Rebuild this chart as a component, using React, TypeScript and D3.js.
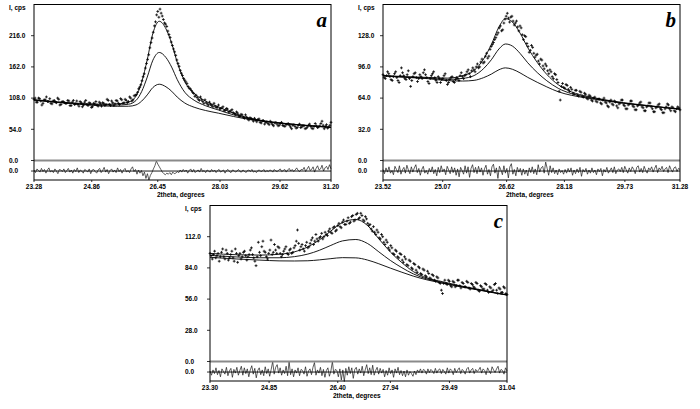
import React from 'react';
import * as d3 from 'd3';

// ---------- Panel a ----------
const aRange = [23.28, 31.2];
const aTicksX = ['23.28', '24.86', '26.45', '28.03', '29.62', '31.20'];
// where the reference prints each tick label along the 2theta axis
const aTicksAt = [23.28, 24.82, 26.58, 28.24, 29.84, 31.2];
const aTicksY = [0, 54, 108, 162, 216];
const aYMax = 270;
const aObs = [
  106, 108, 101, 101, 108, 107, 103, 96, 99, 105, 105, 110, 102, 102, 107, 99, 98, 103, 104, 101,
  100, 108, 106, 96, 97, 102, 102, 100, 99, 99, 104, 103, 95, 95, 101, 104, 97, 98, 103, 97,
  94, 102, 100, 93, 96, 101, 104, 97, 95, 100, 99, 92, 93, 99, 98, 102, 96, 94, 101, 99,
  94, 100, 99, 95, 97, 106, 104, 97, 95, 103, 100, 95, 98, 104, 103, 99, 97, 107, 105, 99,
  100, 106, 104, 100, 102, 110, 108, 103, 105, 112, 113, 114, 118, 124, 127, 131, 138, 145, 150, 160,
  168, 175, 183, 195, 204, 212, 222, 233, 240, 252, 258, 248, 262, 255, 250, 244, 238, 236, 232, 224,
  218, 213, 205, 199, 193, 188, 182, 174, 168, 163, 156, 151, 147, 142, 139, 136, 133, 128, 125, 124,
  121, 118, 116, 111, 113, 109, 106, 104, 110, 105, 102, 99, 105, 100, 98, 96, 101, 97, 95, 93,
  99, 94, 92, 92, 96, 89, 90, 91, 93, 86, 87, 90, 89, 84, 85, 86, 88, 83, 81, 80,
  84, 82, 78, 76, 80, 79, 75, 73, 79, 75, 72, 70, 74, 73, 71, 68, 73, 70, 67, 71,
  72, 66, 65, 69, 69, 63, 66, 67, 64, 62, 68, 65, 62, 60, 65, 66, 63, 60, 61, 64,
  66, 61, 60, 59, 62, 63, 64, 61, 58, 55, 61, 62, 59, 56, 57, 61, 63, 57, 58, 60,
  60, 55, 56, 58, 61, 63, 59, 56, 55, 59, 64, 60, 57, 58, 60, 64, 68, 61, 55, 59,
  62, 56, 58, 61, 66,
];
const aRes = [
  2, -3, 4, 1, -2, 5, -1, 3, -4, 2, 6, -2, 1, -3, 4, 0, -5, 3, 2, -1,
  4, -3, 1, 5, -2, 2, -4, 3, -1, 6, -3, 2, 0, -4, 3, 1, -2, 4, -5, 2,
  3, -1, -4, 2, 5, -3, 1, 7, -2, 3, -5, 1, 4, -2, 2, -3, 6, -1, 3, -4,
  2, 5, -2, 1, -3, 4, 8, -1, 3, -6, 2, -4, 1, -9, -2, -14, -5, -17, -8, -3,
  4, 10, 19, 13, 8, 3, -2, -5, -7, -4, -6, -3, -7, -2, -5, -4, -1, -3, 2, -2,
  3, -1, 2, -4, 1, 4, -2, 3, -3, 0, 2, -2, 5, -1, 1, -3, 2, 0, -2, 3,
  -1, 2, -3, 1, 3, -2, 0, 2, -4, 1, 3, -1, -3, 2, 1, -2, 0, 3, -1, -2,
  2, 0, -3, 1, 2, -1, 3, -2, 0, -3, 1, 2, -1, 0, 3, -2, 1, -1, 2, 1,
  -2, 3, 0, -1, 2, 4, -1, 1, 3, -2, 2, 5, 0, 3, -1, 2, 6, 1, -1, 3,
  2, 7, -1, 4, 9, 1, 3, 8, -2, 5, 10, 2, 4, 11, 0, 6, 9, 3, 12, 4,
];
const aFitX = [23.28, 23.9, 24.5, 25.1, 25.5, 25.8, 26.0, 26.15, 26.3, 26.45, 26.62, 26.8, 26.95, 27.1, 27.3, 27.55, 27.85, 28.2, 28.6, 29.1, 29.7, 30.4, 31.2];
const aFitLow = [104.4, 100.4, 97.2, 94.6, 93.8, 93.9, 96.2, 102.7, 113.6, 126.3, 132, 127.5, 119.9, 109.7, 99.5, 92.2, 86.6, 81.9, 76.2, 70.3, 65.4, 61.2, 57.1];
const aFitMid = [104.8, 101.0, 98.0, 96.0, 96.0, 97.4, 103.9, 119.2, 144.4, 173.6, 187, 178.1, 161.7, 140, 118.2, 104.3, 94.9, 87.4, 79, 71.3, 65.8, 61.4, 57.3];
const aFitTop = [105.2, 101.5, 98.8, 97.3, 98.1, 100.9, 111.4, 135.4, 174.7, 220.1, 241, 227.8, 202.8, 169.7, 136.5, 116.2, 103, 92.8, 81.7, 72.3, 66.2, 61.6, 57.5];

// ---------- Panel b ----------
const bRange = [23.52, 31.28];
const bTicksX = ['23.52', '25.07', '26.62', '28.18', '29.73', '31.28'];
const bTicksAt = [23.52, 25.08, 26.75, 28.26, 29.84, 31.28];
const bTicksY = [0, 32, 64, 96, 128];
const bYMax = 160;
const bObs = [
  88, 85, 84, 87, 91, 89, 86, 83, 82, 86, 89, 91, 85, 82, 80, 87, 95, 90, 87, 84,
  83, 88, 92, 84, 76, 82, 86, 89, 90, 85, 81, 84, 88, 86, 84, 90, 93, 88, 85, 81,
  79, 84, 87, 89, 91, 85, 82, 80, 86, 84, 80, 83, 84, 87, 89, 82, 78, 80, 83, 85,
  86, 81, 80, 83, 85, 84, 82, 87, 90, 86, 84, 87, 88, 91, 93, 89, 86, 92, 95, 93,
  91, 96, 99, 95, 96, 101, 104, 100, 101, 107, 110, 105, 107, 114, 117, 119, 121, 124, 126, 129,
  131, 136, 138, 133, 134, 141, 145, 148, 151, 146, 142, 147, 148, 143, 139, 141, 143, 137, 133, 138,
  136, 129, 124, 128, 127, 120, 117, 111, 113, 118, 116, 110, 106, 108, 109, 102, 99, 104, 103, 97,
  94, 99, 97, 92, 89, 93, 91, 86, 84, 89, 88, 83, 80, 71, 62, 76, 79, 75, 74, 78,
  77, 73, 71, 75, 73, 69, 68, 72, 72, 67, 66, 71, 70, 66, 65, 69, 68, 64, 63, 67,
  66, 62, 61, 64, 65, 61, 60, 63, 63, 59, 58, 62, 64, 60, 59, 56, 55, 60, 62, 58,
  57, 61, 60, 56, 54, 58, 59, 62, 62, 57, 56, 53, 53, 57, 58, 61, 61, 56, 55, 52,
  52, 56, 57, 59, 60, 55, 54, 51, 51, 55, 56, 59, 59, 55, 53, 50, 50, 54, 55, 57,
  58, 53, 52, 49, 49, 53, 55, 58, 57, 53, 51, 55, 54, 51, 50, 53, 55, 54, 52,
];
const bRes = [
  3, -5, 6, -2, 8, -4, 1, -7, 9, 3, -3, 10, -6, 2, 7, -4, 11, 2, -5, 8,
  -2, 6, 12, -3, 5, -8, 3, 9, -4, 1, -6, 5, -2, 8, -5, 3, -9, 7, -3, 10,
  -1, 4, -7, 9, 2, -5, 8, -3, 6, -8, 4, -11, 7, 1, -6, 10, -4, 8, -12, 5,
  12, -3, 7, -5, 9, -2, 6, -8, 4, 11, -6, 3, -9, 8, 13, -4, 6, -14, 9, 2,
  -7, 10, -4, 5, -13, 8, 14, -6, 3, -9, 7, -2, 5, -8, 4, -6, 2, -9, 6, -3,
  8, -5, 4, -7, 12, -2, 6, 9, -4, 17, 5, -8, 10, -3, 6, -5, 2, -7, 4, -3,
  1, -6, 3, -4, 5, -2, 6, -8, 2, -5, 4, -3, 7, -10, 3, -2, 5, -6, 2, -4,
  6, -3, 2, -7, 4, -1, 5, -9, 3, -2, 7, -4, 1, 6, -3, 8, -5, 2, 4, -1,
  7, -3, 9, 2, -4, 6, -1, 8, 3, -5, 7, 10, -2, 5, -3, 9, 1, -4, 6, 2,
  8, -2, 5, 11, -3, 6, 2, 9, -1, 4, 7, -3, 10, 3, -2, 6, 8, -1, 5, 3,
];
const bFitX = [23.52, 24.1, 24.7, 25.2, 25.6, 25.9, 26.15, 26.35, 26.55, 26.72, 26.9, 27.1, 27.3, 27.55, 27.8, 28.1, 28.45, 28.85, 29.3, 29.8, 30.4, 30.9, 31.28];
const bFitLow = [86.7, 85.3, 83.9, 81.9, 81.5, 82.2, 85, 88.6, 93.1, 95, 93.6, 89.9, 85.3, 80.2, 75.5, 70.5, 66.8, 64.1, 61.4, 58.7, 56.1, 54.1, 52.6];
const bFitMid = [86.9, 85.6, 84.6, 83.2, 84.2, 87.1, 94.3, 103.3, 114.4, 119.5, 117.4, 109.9, 100.3, 90.2, 81.8, 74.0, 68.5, 65.0, 61.9, 59.0, 56.3, 54.2, 52.7];
const bFitTop = [87.2, 86.0, 85.2, 84.5, 87.1, 92.3, 104.2, 118.9, 137, 145.5, 142.1, 130.7, 115.9, 100.6, 88.3, 77.7, 70.3, 65.9, 62.4, 59.3, 56.6, 54.3, 52.8];

// ---------- Panel c ----------
const cRange = [23.3, 31.04];
const cTicksX = ['23.30', '24.85', '26.40', '27.94', '29.49', '31.04'];
const cTicksAt = [23.3, 24.84, 26.63, 28.0, 29.54, 31.04];
const cTicksY = [0, 28, 56, 84, 112];
const cYMax = 140;
const cObs = [
  97, 95, 92, 96, 99, 93, 95, 97, 90, 94, 98, 101, 94, 92, 100, 97, 91, 93, 96, 99,
  93, 90, 101, 97, 89, 95, 97, 92, 94, 98, 99, 95, 91, 94, 96, 100, 102, 96, 93, 90,
  86, 94, 107, 98, 95, 103, 108, 99, 98, 94, 92, 97, 100, 109, 96, 98, 105, 100, 97, 103,
  102, 97, 94, 96, 99, 101, 103, 97, 96, 100, 101, 97, 98, 102, 104, 108, 118, 106, 100, 103,
  105, 101, 99, 104, 107, 102, 103, 106, 109, 111, 105, 108, 114, 110, 108, 111, 112, 115, 110, 112,
  116, 114, 113, 117, 119, 116, 115, 120, 121, 117, 118, 122, 124, 121, 120, 125, 127, 123, 123, 126,
  129, 124, 125, 130, 131, 126, 127, 132, 133, 128, 129, 133, 131, 127, 126, 130, 128, 124, 122, 123,
  119, 117, 121, 116, 114, 118, 116, 111, 110, 114, 112, 107, 105, 109, 107, 102, 100, 104, 102, 97,
  96, 100, 99, 94, 93, 97, 96, 91, 89, 94, 92, 87, 86, 91, 90, 84, 83, 88, 87, 82,
  80, 85, 84, 79, 78, 83, 82, 77, 76, 81, 79, 75, 74, 78, 77, 73, 72, 76, 75, 71,
  70, 64, 61, 70, 73, 70, 69, 73, 72, 68, 67, 72, 71, 67, 68, 73, 73, 68, 66, 71,
  70, 67, 67, 72, 71, 66, 65, 70, 69, 67, 66, 71, 70, 64, 63, 68, 67, 65, 65, 70,
  69, 64, 62, 67, 66, 63, 64, 69, 70, 64, 61, 66, 65, 62, 62, 67, 66, 61, 60,
];
const cRes = [
  2, -6, 4, -3, 8, -5, 3, -9, 6, 1, -4, 9, -7, 2, 7, -10, 5, -2, 9, -6,
  3, 11, -6, 8, -3, 6, -9, 4, 12, -4, 7, -11, 3, 8, -5, 4, -7, 10, -3, 6,
  -8, 5, 20, -4, 9, 14, -2, 8, -6, 4, -3, 11, -7, 20, -5, 6, -9, 4, -2, 8,
  -7, 5, 3, -4, 10, -8, 2, 6, -5, 9, 18, -6, 4, -2, 9, -7, 5, -10, 3, 8,
  -8, 2, 20, -4, 5, 3, -9, 6, -15, 4, -18, 7, -6, 10, -3, 8, -12, 5, 9, -4,
  6, -2, 11, -7, 4, 14, -3, 8, -5, 13, -6, 3, 9, -4, 7, -2, 5, -9, 3, -6,
  8, -3, 4, -10, 6, -2, 9, -5, 3, -7, 2, -9, 4, -6, 1, -3, -8, 2, -5, 4,
  -1, 6, -2, 5, 3, -4, 6, -1, 5, 2, -3, 7, -2, 4, 6, -3, 5, 1, -4, 8,
  -2, 6, 3, -5, 7, -1, 4, 8, -3, 5, 2, -4, 6, 9, -2, 4, 7, -3, 5, 1,
  4, 9, -2, 6, 3, -5, 8, 2, -3, 10, 4, -1, 6, 11, -2, 5, 3, -4, 8, 2,
];
const cFitX = [23.3, 24.0, 24.6, 25.1, 25.5, 25.85, 26.15, 26.45, 26.75, 27.1, 27.4, 27.7, 28.0, 28.3, 28.6, 28.95, 29.35, 29.8, 30.3, 30.7, 31.04];
const cFitLow = [93.5, 92.0, 91.0, 90.3, 90.2, 90.4, 91.2, 92.3, 93.2, 93, 91.1, 87.7, 83.8, 80.1, 76.6, 73.3, 70.4, 67.2, 64.1, 61.6, 59.6];
const cFitMid = [95.2, 93.8, 93.1, 93.1, 94.1, 96.4, 99.8, 104.2, 108.2, 109.5, 106, 98.4, 90.7, 84.2, 78.6, 74.1, 71, 67.6, 64.4, 61.8, 59.7];
const cFitTop = [97.0, 95.8, 95.5, 96.2, 98.4, 102.9, 109.1, 117.1, 124.6, 127.5, 122.2, 110.1, 98.3, 88.7, 80.7, 75, 71.7, 68.1, 64.7, 61.9, 59.8];

const SANS = "'Liberation Sans', Arial, Helvetica, sans-serif";
const SERIF = "'Liberation Serif', 'Times New Roman', serif";

type PanelProps = {
  left: number;
  top: number;
  xDomain: number[];
  yMax: number;
  yTicks: number[];
  xTickLabels: string[];
  xTickAt: number[];
  obs: number[];
  res: number[];
  fitX: number[];
  fits: number[][];
  letter: string;
};

function Panel({ left, top, xDomain, yMax, yTicks, xTickLabels, xTickAt, obs, res, fitX, fits, letter }: PanelProps) {
  const width = 297;
  const mainH = 156;
  const resH = 19.5;
  const bottom = top + mainH + resH;
  const x = d3.scaleLinear().domain(xDomain).range([left, left + width]);
  const y = d3.scaleLinear().domain([0, yMax]).range([top + mainH, top]);
  const yr = d3.scaleLinear().domain([-17, 20]).range([bottom, top + mainH]);
  const obsIdx = d3.scaleLinear().domain([0, obs.length - 1]).range(xDomain);
  const resIdx = d3.scaleLinear().domain([0, res.length - 1]).range(xDomain);

  const fitLine = d3
    .line<number>()
    .x((_, i) => x(fitX[i]))
    .y((d) => y(d))
    .curve(d3.curveMonotoneX);
  const resLine = d3
    .line<number>()
    .x((_, i) => x(resIdx(i)))
    .y((d) => yr(d));

  const a = 1.4;
  const crosses = obs
    .map((v, i) => {
      const px = x(obsIdx(i));
      const py = y(v);
      return `M${px - a},${py}h${2 * a}M${px},${py - a}v${2 * a}`;
    })
    .join('');

  const labelX = left - 25;

  return (
    <g>
      <path d={resLine(res) || ''} fill="none" stroke="#1a1a1a" strokeWidth={0.7} />
      <line x1={left} x2={left + width} y1={yr(0)} y2={yr(0)} stroke="#000" strokeWidth={0.9} />
      {fits.map((f, k) => (
        <path key={k} d={fitLine(f) || ''} fill="none" stroke="#000" strokeWidth={0.9} />
      ))}
      <path d={crosses} fill="none" stroke="#000" strokeWidth={0.8} />
      <line x1={left} x2={left + width} y1={y(0)} y2={y(0)} stroke="#8a8a8a" strokeWidth={2.2} />
      <rect x={left} y={top} width={width} height={mainH + resH} fill="none" stroke="#000" strokeWidth={1} />
      {yTicks.map((t) => (
        <g key={t}>
          <line x1={left - 3} x2={left} y1={y(t)} y2={y(t)} stroke="#000" strokeWidth={0.8} />
          <text x={labelX} y={y(t)} dy="0.35em" fontFamily={SANS} fontWeight="bold" fontSize={6.5} fill="#000">
            {t.toFixed(1)}
          </text>
        </g>
      ))}
      <line x1={left - 3} x2={left} y1={yr(0)} y2={yr(0)} stroke="#000" strokeWidth={0.8} />
      <text x={labelX} y={yr(0)} dy="0.35em" fontFamily={SANS} fontWeight="bold" fontSize={6.5} fill="#000">
        0.0
      </text>
      <text x={labelX} y={top + 3.5} dy="0.35em" fontFamily={SANS} fontWeight="bold" fontSize={6.5} fill="#000">
        I, cps
      </text>
      {xTickLabels.map((s, i) => (
        <g key={s}>
          <line x1={x(xTickAt[i])} x2={x(xTickAt[i])} y1={bottom} y2={bottom + 2} stroke="#000" strokeWidth={0.8} />
          <text
            x={x(xTickAt[i])}
            y={bottom + 8.5}
            textAnchor="middle"
            fontFamily={SANS}
            fontWeight="bold"
            fontSize={6.5}
            fill="#000"
          >
            {s}
          </text>
        </g>
      ))}
      <text x={left + 123} y={bottom + 16.5} fontFamily={SANS} fontWeight="bold" fontSize={6.5} fill="#000">
        2theta, degrees
      </text>
      <text
        x={left + width - 4}
        y={top + 22}
        textAnchor="end"
        fontFamily={SERIF}
        fontWeight="bold"
        fontStyle="italic"
        fontSize={21}
        fill="#000"
      >
        {letter}
      </text>
    </g>
  );
}

export default function App() {
  return (
    <svg
      width={700}
      height={409}
      viewBox="0 0 700 409"
      style={{ position: 'absolute', left: 0, top: 0, background: '#fff' }}
    >
      <rect x={0} y={0} width={700} height={409} fill="#fff" />
      <Panel
        left={34}
        top={4.5}
        xDomain={aRange}
        yMax={aYMax}
        yTicks={aTicksY}
        xTickLabels={aTicksX}
        xTickAt={aTicksAt}
        obs={aObs}
        res={aRes}
        fitX={aFitX}
        fits={[aFitLow, aFitMid, aFitTop]}
        letter="a"
      />
      <Panel
        left={383}
        top={4.5}
        xDomain={bRange}
        yMax={bYMax}
        yTicks={bTicksY}
        xTickLabels={bTicksX}
        xTickAt={bTicksAt}
        obs={bObs}
        res={bRes}
        fitX={bFitX}
        fits={[bFitLow, bFitMid, bFitTop]}
        letter="b"
      />
      <Panel
        left={210}
        top={205.5}
        xDomain={cRange}
        yMax={cYMax}
        yTicks={cTicksY}
        xTickLabels={cTicksX}
        xTickAt={cTicksAt}
        obs={cObs}
        res={cRes}
        fitX={cFitX}
        fits={[cFitLow, cFitMid, cFitTop]}
        letter="c"
      />
    </svg>
  );
}
